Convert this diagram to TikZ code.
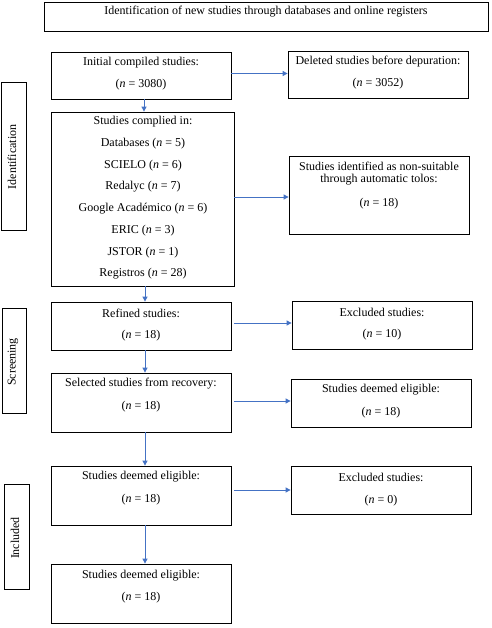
\documentclass[tikz,border=0pt]{standalone}
\usepackage{fontspec}
\setmainfont{Liberation Serif}
\usetikzlibrary{arrows.meta}
\definecolor{arrowblue}{HTML}{4472C4}
\begin{document}
\begin{tikzpicture}[x=1pt,y=-1pt,
  box/.style={draw=black, line width=0.8pt, inner sep=0pt, rectangle},
  txt/.style={inner sep=0pt, font=\fontsize{12}{14}\selectfont, align=center},
  arr/.style={draw=arrowblue, line width=0.9pt, -{Triangle[length=5pt,width=5pt]}}]
\useasboundingbox (0,0) rectangle (491,628);
% boxes
\node[box, minimum width=444pt, minimum height=29pt] (title) at (266,16.5) {};
\node[box, minimum width=180pt, minimum height=47pt] (init) at (141,75.5) {};
\node[box, minimum width=180pt, minimum height=47pt] (del) at (378,74.5) {};
\node[box, minimum width=183pt, minimum height=174pt] (comp) at (142.5,199) {};
\node[box, minimum width=180pt, minimum height=78pt] (nons) at (379,195) {};
\node[box, minimum width=180pt, minimum height=48pt] (ref) at (141,326) {};
\node[box, minimum width=180pt, minimum height=48pt] (exc) at (382,325) {};
\node[box, minimum width=180pt, minimum height=59pt] (sel) at (141,402.5) {};
\node[box, minimum width=180pt, minimum height=48pt] (eli) at (381,403) {};
\node[box, minimum width=180pt, minimum height=59pt] (eli2) at (141,495.5) {};
\node[box, minimum width=180pt, minimum height=48pt] (exc0) at (381,490) {};
\node[box, minimum width=180pt, minimum height=59pt] (fin) at (141,593.5) {};
\node[box, minimum width=25pt, minimum height=148pt] (lab1) at (13.5,156) {};
\node[box, minimum width=24pt, minimum height=105pt] (lab2) at (14,360.5) {};
\node[box, minimum width=25pt, minimum height=105pt] (lab3) at (16.5,536.5) {};
% texts
\node[txt] (ttitle) at (266,12) {Identification of new studies through databases and online registers};
\node[txt] (tinit1) at (141,63) {Initial compiled studies:};
\node[txt] (tinit2) at (141,85) {(\textit{n} = 3080)};
\node[txt] (tdel1) at (378,62) {Deleted studies before depuration:};
\node[txt] (tdel2) at (378,84) {(\textit{n} = 3052)};
\node[txt] (tc1) at (143,122) {Studies complied in:};
\node[txt] (tc2) at (143,144) {Databases (\textit{n} = 5)};
\node[txt] (tc3) at (143,166) {SCIELO (\textit{n} = 6)};
\node[txt] (tc4) at (143,187) {Redalyc (\textit{n} = 7)};
\node[txt] (tc5) at (143,209) {Google Académico (\textit{n} = 6)};
\node[txt] (tc6) at (143,231) {ERIC (\textit{n} = 3)};
\node[txt] (tc7) at (143,253) {JSTOR (\textit{n} = 1)};
\node[txt] (tc8) at (143,274) {Registros (\textit{n} = 28)};
\node[txt] (tn1) at (379,166) {Studies identified as non-suitable};
\node[txt] (tn2) at (379,180) {through automatic tolos:};
\node[txt] (tn3) at (379,204) {(\textit{n} = 18)};
\node[txt] (tr1) at (141,313) {Refined studies:};
\node[txt] (tr2) at (141,336) {(\textit{n} = 18)};
\node[txt] (te1) at (382,312) {Excluded studies:};
\node[txt] (te2) at (382,335) {(\textit{n} = 10)};
\node[txt] (ts1) at (141,384) {Selected studies from recovery:};
\node[txt] (ts2) at (141,407) {(\textit{n} = 18)};
\node[txt] (tl1) at (381,390) {Studies deemed eligible:};
\node[txt] (tl2) at (381,413) {(\textit{n} = 18)};
\node[txt] (tg1) at (141,477) {Studies deemed eligible:};
\node[txt] (tg2) at (141,500) {(\textit{n} = 18)};
\node[txt] (tx1) at (381,477) {Excluded studies:};
\node[txt] (tx2) at (381,501) {(\textit{n} = 0)};
\node[txt] (tf1) at (141,576) {Studies deemed eligible:};
\node[txt] (tf2) at (141,598) {(\textit{n} = 18)};
\node[txt, rotate=90] (tlab1) at (12,157) {Identification};
\node[txt, rotate=90] (tlab2) at (13,362) {Screening};
\node[txt, rotate=90] (tlab3) at (15,538) {Included};
% vertical arrows
\coordinate (vx1) at (144,0);
\coordinate (vx2) at (145,0);
\draw[arr] (init.south -| vx1) -- (comp.north -| vx1);
\draw[arr] (comp.south -| vx2) -- (ref.north -| vx2);
\draw[arr] (ref.south -| vx2) -- (sel.north -| vx2);
\draw[arr] (sel.south -| vx2) -- (eli2.north -| vx2);
\draw[arr] (eli2.south -| vx2) -- (fin.north -| vx2);
% horizontal arrows
\coordinate (h1) at ([shift={(0,-2)}]init.east);
\coordinate (h2) at ([shift={(0,-2)}]comp.east);
\coordinate (h3) at ([shift={(3,-3)}]ref.east);
\coordinate (h4) at ([shift={(3,-1.5)}]sel.east);
\coordinate (h5) at ([shift={(3,-5.5)}]eli2.east);
\draw[arr] (h1) -- (h1 -| del.west);
\draw[arr] (h2) -- (h2 -| nons.west);
\draw[arr] (h3) -- (h3 -| exc.west);
\draw[arr] (h4) -- (h4 -| eli.west);
\draw[arr] (h5) -- (h5 -| exc0.west);
\end{tikzpicture}
\end{document}
